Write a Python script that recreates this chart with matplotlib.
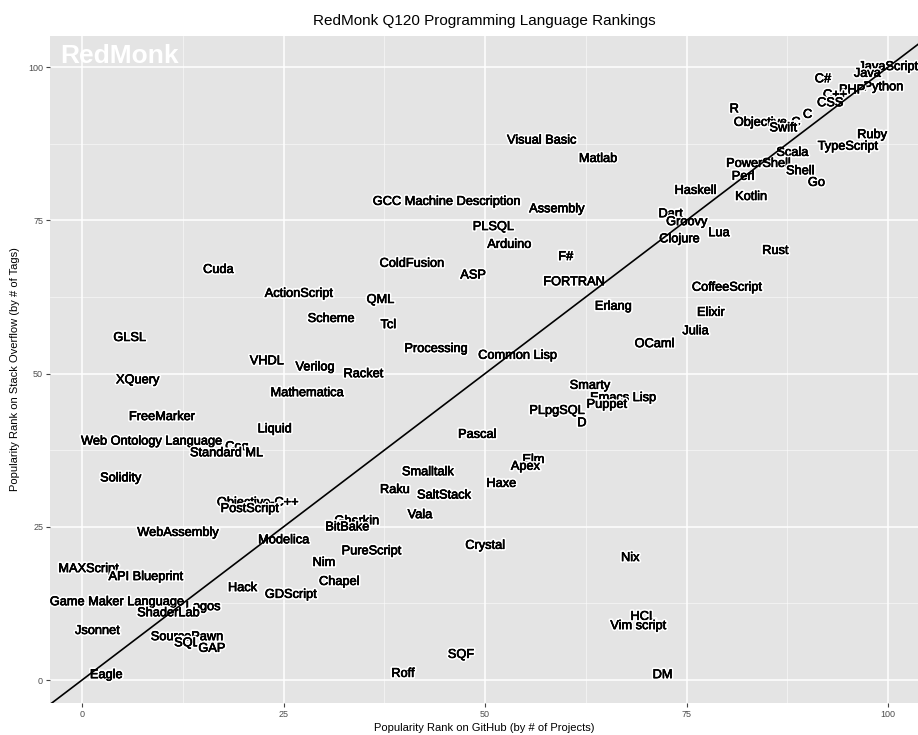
import matplotlib
matplotlib.use("Agg")
import matplotlib.pyplot as plt
import matplotlib.patheffects as pe
from matplotlib.ticker import MultipleLocator

plt.rcParams["font.family"] = ["Liberation Sans", "DejaVu Sans"]

# language labels with (GitHub rank, Stack Overflow rank)
languages = [
    "JavaScript", "Java", "Python", "C#", "PHP", "C++", "CSS", "C", "R",
    "Objective-C", "Swift", "Ruby", "TypeScript", "Scala", "PowerShell",
    "Shell", "Perl", "Go", "Haskell", "Kotlin", "Visual Basic", "Matlab",
    "GCC Machine Description", "Assembly", "PLSQL", "Arduino", "Dart",
    "Groovy", "Clojure", "Lua", "Rust", "F#", "ColdFusion", "Cuda", "ASP",
    "FORTRAN", "CoffeeScript", "ActionScript", "QML", "Erlang", "Elixir",
    "Scheme", "Tcl", "Julia", "GLSL", "OCaml", "Processing", "Common Lisp",
    "VHDL", "Verilog", "Racket", "XQuery", "Smarty", "Mathematica",
    "Emacs Lisp", "Puppet", "PLpgSQL", "FreeMarker", "D", "Liquid", "Pascal",
    "Web Ontology Language", "Coq", "Standard ML", "Elm", "Apex", "Smalltalk",
    "Solidity", "Haxe", "Raku", "SaltStack", "Objective-C++", "PostScript",
    "Vala", "Gherkin", "BitBake", "WebAssembly", "Modelica", "Crystal",
    "PureScript", "Nix", "Nim", "MAXScript", "API Blueprint", "Chapel",
    "Hack", "GDScript", "Game Maker Language", "Logos", "ShaderLab", "HCL",
    "Vim script", "Jsonnet", "SourcePawn", "SQL", "GAP", "SQF", "Eagle",
    "Roff", "DM",
]

github_rank = [
    100, 97.4, 99.4, 91.9, 95.5, 93.4, 92.8, 90, 80.9,
    85, 87, 98, 95, 88.1, 83.9,
    89.1, 82, 91.1, 76.1, 83, 57, 64,
    45.2, 58.9, 51, 53, 73,
    75, 74.1, 79, 86, 60, 40.9, 16.9, 48.5,
    61, 80, 26.9, 37, 65.9, 78,
    30.9, 38, 76.1, 5.9, 71, 43.9, 54,
    22.9, 28.9, 34.9, 6.9, 63, 27.9,
    67.1, 65.1, 58.9, 9.9, 62, 23.9, 49,
    8.6, 19.2, 17.9, 56, 55, 42.9,
    4.8, 52, 38.8, 44.9, 21.8, 20.8,
    41.9, 34.1, 32.9, 11.9, 25, 50,
    35.9, 68, 30, 0.8, 7.9, 31.9,
    19.9, 25.9, 4.3, 15, 10.7, 69.6,
    69, 1.9, 13, 13, 16.1, 47, 3,
    39.8, 72,
]

so_rank = [
    100, 98.9, 96.7, 98, 96.2, 95.4, 94.1, 92.2, 93.1,
    90.9, 90, 88.9, 87, 86, 84.2,
    83, 82.1, 81.1, 79.8, 78.8, 88, 85,
    78, 76.8, 73.9, 71, 76,
    74.7, 71.9, 72.9, 70, 69, 67.9, 66.9, 66,
    64.9, 64, 63, 62, 60.9, 59.9,
    58.9, 57.9, 56.9, 55.8, 54.8, 54, 52.9,
    52, 51, 49.9, 48.9, 48, 46.8,
    46, 44.9, 43.9, 42.9, 41.9, 40.9, 40,
    38.9, 38, 37, 35.9, 34.8, 33.9,
    32.9, 32, 31, 30.1, 28.9, 27.9,
    26.9, 25.9, 24.9, 24, 22.8, 21.9,
    21, 19.9, 19.1, 18.1, 16.8, 16,
    15, 13.9, 12.7, 11.9, 10.9, 10.3,
    8.8, 8, 7, 6, 5.1, 4.1, 0.8,
    1, 0.8,
]

fig = plt.figure(figsize=(9.18, 7.35), dpi=100)
fig.patch.set_facecolor("white")
ax = fig.add_axes([0.0545, 0.0435, 0.9455, 0.9075])
ax.set_facecolor("#E4E4E4")

ax.set_xlim(-3.97, 103.7)
ax.set_ylim(-3.75, 105.06)

ax.xaxis.set_major_locator(MultipleLocator(25))
ax.yaxis.set_major_locator(MultipleLocator(25))
ax.xaxis.set_minor_locator(MultipleLocator(12.5))
ax.yaxis.set_minor_locator(MultipleLocator(12.5))
ax.grid(which="major", color="white", linewidth=1.1)
ax.grid(which="minor", color="white", linewidth=0.5, alpha=0.7)
ax.set_axisbelow(True)
for s in ax.spines.values():
    s.set_visible(False)
ax.tick_params(which="major", length=3, width=0.8, color="#444444",
               labelsize=6.5, labelcolor="#4D4D4D", pad=2)
ax.tick_params(which="minor", length=0)

# white halo, then a hairline black stroke so the labels read a bit heavier
halo = [pe.withStroke(linewidth=2.8, foreground="white"),
        pe.Stroke(linewidth=0.45, foreground="black"), pe.Normal()]
for name, gx, sy in zip(languages, github_rank, so_rank):
    ax.text(gx, sy, name, ha="center", va="center", fontsize=9.2,
            color="black", path_effects=halo, clip_on=True, zorder=3)

ax.plot([-10, 110], [-10, 110], color="black", linewidth=1.2, zorder=4)

ax.text(0.0115, 0.988, "RedMonk", transform=ax.transAxes, ha="left", va="top",
        fontsize=19, fontweight="bold", color="white", zorder=2)

ax.set_title("RedMonk Q120 Programming Language Rankings", fontsize=11, pad=8)
ax.set_xlabel("Popularity Rank on GitHub (by # of Projects)", fontsize=8, labelpad=3)
ax.set_ylabel("Popularity Rank on Stack Overflow (by # of Tags)", fontsize=8, labelpad=6)

fig.savefig("out.png", dpi=100)
